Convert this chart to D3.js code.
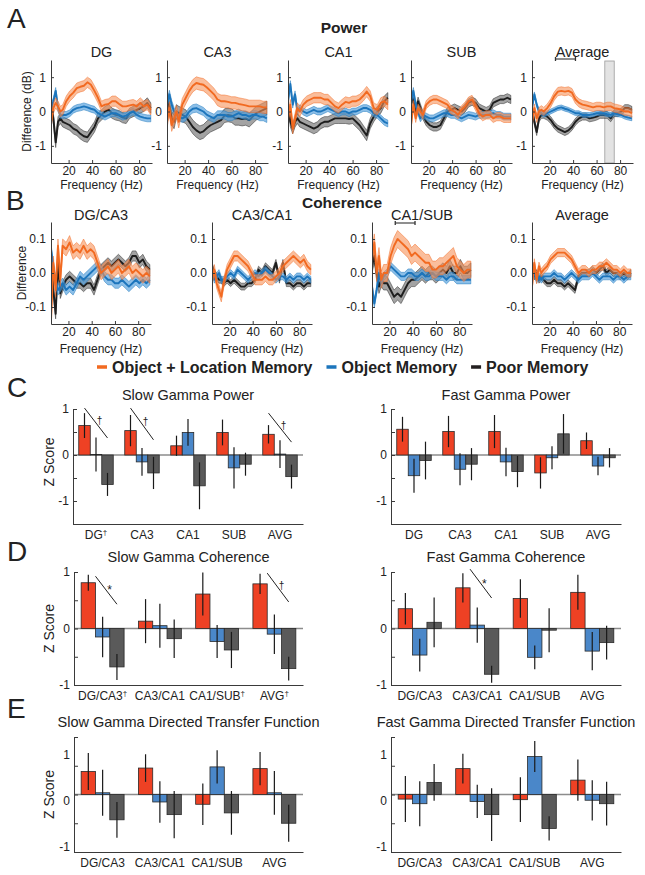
<!DOCTYPE html>
<html><head><meta charset="utf-8">
<script src="https://cdn.jsdelivr.net/npm/d3@7"></script>
<style>
body{margin:0;background:#fff}
svg{display:block}
text{font-family:"Liberation Sans",Arial,Helvetica,sans-serif;fill:#222}
</style>
</head><body>
<svg id="c" width="645" height="875"></svg>
<script>
// ---------------- DATA ----------------
const groups = ["Object + Location Memory", "Object Memory", "Poor Memory"];
const freqs = [5,7,9,11,13,15,18,21,24,27,30,33,36,39,42,45,48,51,54,57,60,63,66,69,72,75,78,81,84,87,90];

// Panel A: power difference (dB)
const powerRegions = ["DG","CA3","CA1","SUB","Average"];
const powDG_OL = [-0.3,0.1,0.25,0.15,0.0,0.05,0.3,0.45,0.55,0.68,0.72,0.75,0.85,0.78,0.6,0.4,0.15,0.2,0.22,0.3,0.3,0.22,0.15,0.15,0.18,0.2,0.15,0.25,0.15,0.2,0.05];
const powDG_OM = [0.1,0.3,0.6,0.1,-0.1,-0.1,-0.1,-0.05,0.05,0.1,0.12,0.15,0.12,0.08,0.05,-0.05,-0.1,-0.15,-0.1,-0.05,-0.05,-0.1,-0.15,-0.12,-0.05,0.0,-0.1,-0.15,-0.18,-0.2,-0.2];
const powDG_PM = [0.3,-0.2,-0.9,-0.3,-0.2,-0.3,-0.35,-0.4,-0.5,-0.55,-0.65,-0.72,-0.75,-0.6,-0.45,-0.2,-0.1,0.0,0.05,-0.05,-0.1,-0.12,-0.18,-0.2,-0.05,0.0,0.05,0.1,0.15,0.25,0.1];
const powCA3_OL = [-0.3,0.1,-0.4,-0.2,0.0,-0.3,0.2,0.4,0.6,0.75,0.83,0.8,0.78,0.7,0.6,0.5,0.35,0.3,0.3,0.28,0.25,0.25,0.22,0.2,0.18,0.15,0.15,0.15,0.15,0.12,0.12];
const powCA3_OM = [0.2,0.5,0.2,0.0,-0.1,-0.15,-0.2,-0.15,0.0,0.08,0.1,0.05,0.0,-0.1,-0.15,-0.2,-0.1,-0.1,-0.1,-0.15,-0.15,-0.1,-0.05,-0.1,-0.1,-0.15,-0.1,-0.1,-0.15,-0.15,-0.2];
const powCA3_PM = [0.4,0.1,-0.2,-0.3,0.0,-0.05,-0.1,-0.15,-0.3,-0.45,-0.55,-0.62,-0.58,-0.48,-0.4,-0.35,-0.3,-0.25,-0.12,-0.1,-0.12,-0.2,-0.2,-0.22,-0.2,-0.25,-0.15,-0.05,0.0,0.05,0.1];
const powCA1_OL = [-0.2,0.2,-0.5,-0.2,0.1,0.0,0.2,0.3,0.35,0.4,0.4,0.4,0.35,0.35,0.25,0.15,0.1,0.2,0.28,0.25,0.3,0.3,0.35,0.45,0.58,0.45,0.1,0.05,0.25,0.3,0.2];
const powCA1_OM = [0.3,0.8,0.2,0.5,0.0,0.1,0.0,-0.05,0.0,0.05,0.0,0.0,0.05,0.1,0.05,0.0,-0.05,0.0,0.0,-0.05,0.0,0.0,0.05,0.1,0.1,0.05,-0.05,-0.1,-0.2,-0.3,-0.35];
const powCA1_PM = [0.2,-0.3,-0.5,-0.3,-0.2,-0.3,-0.35,-0.4,-0.45,-0.5,-0.45,-0.35,-0.3,-0.3,-0.25,-0.2,-0.2,-0.2,-0.2,-0.22,-0.2,-0.3,-0.4,-0.55,-0.7,-0.35,-0.15,0.0,0.1,0.3,0.4];
const powSUB_OL = [-0.4,0.2,-0.2,0.1,0.0,-0.1,0.2,0.3,0.35,0.35,0.3,0.25,0.2,0.05,0.0,-0.1,0.05,0.15,0.3,0.35,0.15,-0.05,-0.15,-0.1,-0.1,-0.2,-0.15,-0.15,-0.2,-0.2,-0.2];
const powSUB_OM = [0.3,0.6,0.2,0.0,-0.2,-0.1,-0.15,-0.2,-0.2,-0.15,-0.1,-0.05,-0.05,-0.1,-0.1,-0.15,-0.2,-0.15,-0.1,-0.12,-0.15,-0.1,-0.1,-0.1,-0.08,-0.05,-0.1,-0.1,-0.15,-0.15,-0.15];
const powSUB_PM = [0.5,0.3,0.0,0.3,0.1,-0.1,-0.3,-0.4,-0.45,-0.45,-0.4,-0.2,0.0,0.05,0.1,0.05,0.0,0.1,0.25,0.3,0.25,0.1,0.05,0.0,0.05,0.25,0.3,0.35,0.35,0.4,0.35];
const powAVG_OL = [-0.3,0.1,-0.2,0.0,0.05,0.0,0.1,0.25,0.45,0.58,0.6,0.58,0.6,0.55,0.35,0.25,0.2,0.18,0.15,0.12,0.15,0.15,0.12,0.15,0.15,0.1,0.08,0.05,0.0,0.0,-0.05];
const powAVG_OM = [0.1,0.5,0.2,0.0,-0.05,-0.1,-0.05,0.0,0.05,0.1,0.12,0.08,0.05,0.0,-0.05,-0.05,-0.1,-0.1,-0.1,-0.08,-0.05,-0.05,-0.05,-0.08,-0.1,-0.05,-0.08,-0.1,-0.15,-0.18,-0.2];
const powAVG_PM = [0.1,-0.3,-0.6,-0.2,-0.1,-0.1,-0.15,-0.25,-0.4,-0.5,-0.55,-0.6,-0.55,-0.45,-0.3,-0.2,-0.15,-0.15,-0.2,-0.18,-0.15,-0.1,-0.1,-0.1,-0.2,-0.05,-0.05,0.0,0.1,0.1,0.05];
// shaded band half-widths [O+L, Object, Poor]
const powSem = [[0.15,0.1,0.15],[0.18,0.12,0.2],[0.15,0.1,0.15],[0.12,0.1,0.12],[0.12,0.07,0.1]];
const slowGammaHz = [25, 42];
const fastGammaHz = [67, 75];

// Panel B: coherence difference
const cohPairs = ["DG/CA3","CA3/CA1","CA1/SUB","Average"];
const cohDGCA3_OL = [-0.14,0.03,-0.05,0.08,-0.02,0.08,0.07,0.09,0.06,0.07,0.06,0.08,0.06,0.07,0.06,0.03,0.0,0.01,0.02,0.0,0.01,0.02,0.0,0.01,0.02,0.0,0.01,0.0,-0.01,0.0,-0.01];
const cohDGCA3_OM = [0.07,0.02,-0.03,-0.05,-0.04,-0.03,-0.05,-0.04,-0.05,-0.03,-0.01,-0.02,-0.01,0.0,0.01,0.02,0.01,-0.01,-0.02,-0.02,-0.03,-0.03,-0.02,-0.03,-0.04,-0.03,-0.02,-0.03,-0.02,-0.03,-0.02];
const cohDGCA3_PM = [0.05,-0.05,-0.12,0.03,-0.06,-0.04,-0.02,-0.01,-0.02,-0.03,-0.03,-0.04,-0.03,-0.03,-0.05,-0.02,0.01,0.02,0.03,0.02,0.03,0.04,0.03,0.02,0.03,0.05,0.05,0.03,0.04,0.02,0.01];
const cohCA3CA1_OL = [-0.02,0.01,-0.03,-0.05,-0.07,-0.03,0.01,0.03,0.05,0.05,0.04,0.03,0.02,0.0,-0.02,-0.02,-0.02,-0.01,-0.02,-0.02,-0.01,0.0,0.02,0.03,0.04,0.05,0.04,0.03,0.04,0.02,0.01];
const cohCA3CA1_OM = [0.01,-0.02,-0.01,0.0,-0.02,-0.02,-0.01,0.0,-0.01,0.01,0.0,-0.01,-0.02,-0.01,0.0,-0.01,0.0,0.01,0.0,-0.01,-0.02,-0.01,-0.01,-0.02,-0.01,-0.02,-0.01,-0.01,-0.02,-0.01,-0.02];
const cohCA3CA1_PM = [0.02,0.0,-0.01,-0.02,-0.02,-0.03,-0.02,-0.03,-0.02,-0.03,-0.04,-0.04,-0.03,-0.03,-0.02,0.01,0.0,0.02,0.01,0.0,0.03,-0.02,0.03,-0.03,-0.03,-0.04,-0.03,-0.03,-0.04,-0.03,-0.03];
const cohCA1SUB_OL = [0.05,0.09,0.0,0.05,-0.02,0.0,0.0,0.05,0.08,0.1,0.09,0.08,0.07,0.05,0.06,0.05,0.04,0.03,0.03,0.01,0.01,0.02,0.02,0.03,0.04,0.05,0.02,0.01,0.0,0.01,0.01];
const cohCA1SUB_OM = [-0.04,-0.09,-0.05,0.0,-0.03,-0.01,0.0,0.02,0.01,0.0,-0.01,-0.01,0.0,0.0,-0.01,-0.01,0.0,-0.01,-0.01,0.0,-0.01,-0.01,-0.01,-0.02,-0.01,-0.01,-0.02,-0.02,-0.02,-0.02,-0.02];
const cohCA1SUB_PM = [0.02,0.05,0.0,-0.04,-0.02,-0.03,-0.03,-0.05,-0.07,-0.06,-0.07,-0.05,-0.03,-0.02,-0.02,-0.01,0.0,-0.01,0.0,0.0,-0.01,0.0,0.01,0.0,0.02,0.0,0.0,0.02,0.0,0.0,0.01];
const cohAVG_OL = [-0.04,0.03,-0.02,0.02,0.0,0.01,0.02,0.04,0.05,0.06,0.06,0.06,0.05,0.04,0.02,0.0,0.01,0.01,0.0,0.01,0.01,0.02,0.02,0.03,0.02,0.01,0.01,0.0,0.01,0.0,0.0];
const cohAVG_OM = [0.03,0.0,-0.02,-0.01,-0.02,-0.01,-0.01,-0.01,0.0,-0.01,-0.01,-0.02,-0.01,0.0,-0.01,-0.02,-0.01,-0.01,-0.01,0.0,-0.01,-0.02,-0.01,-0.01,-0.01,-0.02,-0.01,-0.01,-0.02,-0.01,-0.01];
const cohAVG_PM = [0.03,-0.01,0.0,-0.02,-0.01,-0.02,-0.03,-0.03,-0.02,-0.03,-0.03,-0.04,-0.03,-0.04,-0.05,-0.01,0.0,0.0,0.0,0.01,0.0,0.01,0.02,0.0,0.01,0.0,0.0,-0.01,0.0,-0.01,0.0];
const cohSem = [[0.02,0.015,0.015],[0.015,0.01,0.01],[0.025,0.012,0.02],[0.012,0.01,0.01]];

// Panel C: power z-scores
const powCats = ["DG","CA3","CA1","SUB","AVG"];
const slowPowDagger = ["DG"];
const slowPowOL = [0.64,0.53,0.2,0.49,0.45],   slowPowOLErr = [0.27,0.34,0.22,0.28,0.2];
const slowPowOM = [0.01,-0.15,0.49,-0.28,0.02], slowPowOMErr = [0.37,0.3,0.29,0.45,0.3];
const slowPowPM = [-0.64,-0.39,-0.67,-0.2,-0.47], slowPowPMErr = [0.25,0.35,0.51,0.25,0.26];
const slowPowSig = [{cat:"DG",sym:"†",from:1.02,to:0.37},{cat:"CA3",sym:"†",from:1.02,to:0.33},{cat:"AVG",sym:"†",from:0.91,to:0.28}];
const fastPowOL = [0.56,0.51,0.51,-0.39,0.31],  fastPowOLErr = [0.27,0.34,0.36,0.34,0.18];
const fastPowOM = [-0.45,-0.31,-0.15,-0.06,-0.24], fastPowOMErr = [0.37,0.35,0.31,0.25,0.2];
const fastPowPM = [-0.12,-0.2,-0.36,0.46,-0.06], fastPowPMErr = [0.41,0.35,0.34,0.43,0.21];

// Panel D: coherence z-scores
const pairCats = ["DG/CA3","CA3/CA1","CA1/SUB","AVG"];
const slowCohDagger = ["DG/CA3","CA1/SUB","AVG"];
const slowCohOL = [0.81,0.13,0.61,0.79],  slowCohOLErr = [0.14,0.39,0.38,0.18];
const slowCohOM = [-0.15,0.05,-0.23,-0.1], slowCohOMErr = [0.36,0.39,0.29,0.35];
const slowCohPM = [-0.68,-0.18,-0.38,-0.71], slowCohPMErr = [0.23,0.34,0.32,0.21];
const slowCohSig = [{cat:"DG/CA3",sym:"*",from:0.925,to:0.43},{cat:"AVG",sym:"†",from:0.98,to:0.47}];
const fastCohOL = [0.35,0.72,0.53,0.64],  fastCohOLErr = [0.28,0.26,0.34,0.31];
const fastCohOM = [-0.47,0.06,-0.51,-0.4], fastCohOMErr = [0.29,0.31,0.21,0.34];
const fastCohPM = [0.11,-0.81,-0.03,-0.25], fastCohPMErr = [0.44,0.15,0.39,0.3];
const fastCohSig = [{cat:"CA3/CA1",sym:"*",from:1.05,to:0.54}];

// Panel E: directed transfer function z-scores
const slowDtfOL = [0.4,0.46,-0.17,0.45],  slowDtfOLErr = [0.32,0.24,0.36,0.29];
const slowDtfOM = [0.03,-0.13,0.48,0.03], slowDtfOMErr = [0.4,0.36,0.29,0.38];
const slowDtfPM = [-0.44,-0.35,-0.32,-0.5], slowDtfPMErr = [0.31,0.41,0.38,0.32];
const fastDtfOL = [-0.08,0.45,-0.09,0.25], fastDtfOLErr = [0.4,0.26,0.39,0.36];
const fastDtfOM = [-0.16,-0.12,0.66,-0.1], fastDtfOMErr = [0.39,0.29,0.27,0.35];
const fastDtfPM = [0.21,-0.35,-0.59,-0.16], fastDtfPMErr = [0.32,0.46,0.21,0.38];

// ---------------- STYLE ----------------
const colLine = ["#F26A21","#1C75BC","#1E1E1E"];
const colBand = ["#F7925A","#4E9DDC","#8C8C8C"];
const bandOp = [0.6,0.65,0.8];
const colBar = ["#EE4124","#4A87C9","#5A5A5A"];
const colLegend = ["#F26A21","#1C75BC","#231F20"];
const AX = "#3a3a3a";
// label nudges of the DTF panels' y tick labels, as printed in the figure
const dtfLabelNudge = {"1":18, "0":6, "-1":-5};

const svg = d3.select("#c");
let clipN = 0;

function styleAxis(g){
  g.selectAll(".domain").attr("stroke",AX).attr("stroke-width",1);
  g.selectAll(".tick line").attr("stroke",AX).attr("stroke-width",1);
  g.selectAll(".tick text").attr("fill","#222").style("font-size","12px")
    .style("font-family",'"Liberation Sans",Arial,sans-serif');
}

function addText(x,y,str,size,opts={}){
  const t = svg.append("text").attr("x",x).attr("y",y).text(str)
    .style("font-size",size+"px")
    .attr("text-anchor",opts.anchor||"middle");
  if(opts.bold) t.style("font-weight","bold");
  if(opts.fill) t.attr("fill",opts.fill);
  if(opts.rotate) t.attr("transform",`rotate(-90,${x},${y})`);
  return t;
}

function linePanel(cfg){
  const x = d3.scaleLinear().domain([5,91]).range([cfg.left,cfg.left+cfg.width]);
  const y = d3.scaleLinear().domain(cfg.yDomain).range([cfg.bottom,cfg.top]);
  const g = svg.append("g");
  const id = "clip"+(clipN++);
  svg.append("clipPath").attr("id",id).append("rect")
    .attr("x",cfg.left).attr("y",cfg.top).attr("width",cfg.width).attr("height",cfg.bottom-cfg.top);
  if(cfg.shade){
    g.append("rect").attr("x",x(cfg.shade[0])).attr("width",x(cfg.shade[1])-x(cfg.shade[0]))
      .attr("y",cfg.top+1).attr("height",cfg.bottom-cfg.top-1)
      .attr("fill","#e3e3e3").attr("stroke","#9a9a9a").attr("stroke-width",0.8);
  }
  const pg = g.append("g").attr("clip-path",`url(#${id})`);
  [2,1,0].forEach(i=>{
    const s = cfg.sems[i];
    const pts = freqs.map((f,k)=>({f, v:cfg.series[i][k]}));
    pg.append("path").datum(pts)
      .attr("d", d3.area().x(d=>x(d.f)).y0(d=>y(d.v-s)).y1(d=>y(d.v+s)))
      .attr("fill",colBand[i]).attr("fill-opacity",bandOp[i])
      .attr("stroke",colLine[i]).attr("stroke-width",0.6).attr("stroke-opacity",0.8);
    pg.append("path").datum(pts)
      .attr("d", d3.line().x(d=>x(d.f)).y(d=>y(d.v)))
      .attr("fill","none").attr("stroke",colLine[i]).attr("stroke-width",1.9)
      .attr("stroke-linejoin","round");
  });
  const ax = g.append("g").attr("transform",`translate(0,${cfg.bottom})`)
    .call(d3.axisBottom(x).tickValues([20,40,60,80]).tickSizeInner(-3).tickSizeOuter(0).tickPadding(3));
  const ay = g.append("g").attr("transform",`translate(${cfg.left},0)`)
    .call(d3.axisLeft(y).tickValues(cfg.yTicks).tickFormat(cfg.yFmt).tickSizeInner(-3).tickSizeOuter(0).tickPadding(5));
  styleAxis(ax); styleAxis(ay);
  addText(cfg.left+cfg.width/2, cfg.titleY, cfg.title, 14.5);
  addText(cfg.left+cfg.width/2, cfg.xlabelY, "Frequency (Hz)", 12);
  if(cfg.ylabel) addText(cfg.ylabelX, (cfg.top+cfg.bottom)/2, cfg.ylabel, 12, {rotate:true});
  if(cfg.bracket){
    const by = cfg.bracketY, x1 = x(cfg.bracket[0]), x2 = x(cfg.bracket[1]);
    svg.append("line").attr("x1",x1).attr("x2",x2).attr("y1",by).attr("y2",by).attr("stroke","#333").attr("stroke-width",1.1);
    [x1,x2].forEach(xx=>svg.append("line").attr("x1",xx).attr("x2",xx).attr("y1",by-2).attr("y2",by+2).attr("stroke","#333").attr("stroke-width",1.3));
  }
}

function barPanel(cfg){
  const x0 = d3.scaleBand().domain(cfg.cats).range([cfg.left,cfg.right]).padding(0);
  const x1 = d3.scaleBand().domain([0,1,2]).range([0,x0.bandwidth()]).paddingInner(0).paddingOuter(0.5);
  const y = d3.scaleLinear().domain(cfg.domain).range([cfg.bottom,cfg.top]);
  const g = svg.append("g");
  g.append("line").attr("x1",cfg.left).attr("x2",cfg.right).attr("y1",y(0)).attr("y2",y(0))
    .attr("stroke","#8c8c8c").attr("stroke-width",1.3);
  const rows = [];
  cfg.vals.forEach((arr,i)=>arr.forEach((v,k)=>rows.push({i, cat:cfg.cats[k], v, e:cfg.errs[i][k]})));
  g.selectAll("rect.bar").data(rows).join("rect").attr("class","bar")
    .attr("x",d=>x0(d.cat)+x1(d.i)).attr("width",x1.bandwidth())
    .attr("y",d=>y(Math.max(0,d.v))).attr("height",d=>Math.abs(y(d.v)-y(0)))
    .attr("fill",d=>colBar[d.i]).attr("stroke","#2a2a2a").attr("stroke-width",0.8);
  g.selectAll("line.err").data(rows).join("line").attr("class","err")
    .attr("x1",d=>x0(d.cat)+x1(d.i)+x1.bandwidth()/2).attr("x2",d=>x0(d.cat)+x1(d.i)+x1.bandwidth()/2)
    .attr("y1",d=>y(d.v-d.e)).attr("y2",d=>y(d.v+d.e))
    .attr("stroke","#1a1a1a").attr("stroke-width",1.2);
  const ax = g.append("g").attr("transform",`translate(0,${cfg.bottom})`)
    .call(d3.axisBottom(x0).tickSizeInner(0).tickSizeOuter(0).tickPadding(6.5));
  const ay = g.append("g").attr("transform",`translate(${cfg.left},0)`)
    .call(d3.axisLeft(y).tickValues(cfg.ticks).tickFormat(d=>Number.isInteger(d)?String(d):"")
      .tickSizeInner(-4).tickSizeOuter(0).tickPadding(4));
  styleAxis(ax); styleAxis(ay);
  if(cfg.labelNudge){
    ay.selectAll(".tick text").attr("transform", d => `translate(0,${cfg.labelNudge[String(d)]||0})`);
  }
  ax.selectAll(".tick text").each(function(d){
    if((cfg.daggers||[]).includes(d)){
      d3.select(this).append("tspan").text("†").attr("dy","-0.45em").style("font-size","8px");
    }
  });
  addText((cfg.left+cfg.right)/2, cfg.titleY, cfg.title, 14.5);
  if(cfg.ylabel) addText(54, y(cfg.ylabelAt), cfg.ylabel, 14, {rotate:true});
  (cfg.sig||[]).forEach(s=>{
    const xs = x0(s.cat)+x1(0)+x1.bandwidth()*(0.5+cfg.sigDx);
    const xe = x0(s.cat)+x1(2)+x1.bandwidth()/2;
    const ys = y(s.from), ye = y(s.to);
    g.append("line").attr("x1",xs).attr("x2",xe).attr("y1",ys).attr("y2",ye).attr("stroke","#222").attr("stroke-width",1);
    addText((xs+xe)/2+3.5, (ys+ye)/2+(s.sym==="*"?4:1), s.sym, s.sym==="*"?12:10);
  });
}

// ---------------- PANEL A ----------------
addText(7,28,"A",28,{anchor:"start"});
addText(344,33,"Power",15.5,{bold:true});
const powSeries = [[powDG_OL,powDG_OM,powDG_PM],[powCA3_OL,powCA3_OM,powCA3_PM],[powCA1_OL,powCA1_OM,powCA1_PM],[powSUB_OL,powSUB_OM,powSUB_PM],[powAVG_OL,powAVG_OM,powAVG_PM]];
const aLefts = [51,167,288,411,532];
powerRegions.forEach((r,i)=>{
  linePanel({left:aLefts[i], width:101, top:60, bottom:163, yDomain:[-1.5,1.5], yTicks:[-1,0,1], yFmt:d=>String(d),
    title:r, titleY:57, xlabelY:189, series:powSeries[i], sems:powSem[i],
    ylabel: i===0 ? "Difference (dB)" : null, ylabelX:31,
    shade: i===4 ? fastGammaHz : null, bracket: i===4 ? slowGammaHz : null, bracketY:59});
});

// ---------------- PANEL B ----------------
addText(6,210,"B",28,{anchor:"start"});
addText(342,208,"Coherence",15.5,{bold:true});
const cohSeries = [[cohDGCA3_OL,cohDGCA3_OM,cohDGCA3_PM],[cohCA3CA1_OL,cohCA3CA1_OM,cohCA3CA1_PM],[cohCA1SUB_OL,cohCA1SUB_OM,cohCA1SUB_PM],[cohAVG_OL,cohAVG_OM,cohAVG_PM]];
const bLefts = [51,212,372,532];
cohPairs.forEach((p,i)=>{
  linePanel({left:bLefts[i], width:100, top:222, bottom:324, yDomain:[-0.15,0.15], yTicks:[-0.1,0,0.1], yFmt:d=>d.toFixed(1),
    title:p, titleY:220, xlabelY:352.5, series:cohSeries[i], sems:cohSem[i],
    ylabel: i===0 ? "Difference" : null, ylabelX:26,
    bracket: i===2 ? slowGammaHz : null, bracketY:223});
});

// ---------------- LEGEND ----------------
(function(){
  let x = 97; const yc = 367;
  groups.forEach((gname,i)=>{
    svg.append("rect").attr("x",x).attr("y",yc-1.75).attr("width",10).attr("height",3.5).attr("fill",colLegend[i]);
    const t = addText(x+15, yc+5.7, gname, 16, {anchor:"start", bold:true, fill:colLegend[i]});
    x = x + 15 + t.node().getComputedTextLength() + 14;
  });
})();

// ---------------- PANEL C ----------------
addText(7,397,"C",28,{anchor:"start"});
barPanel({left:73, right:303, top:409, bottom:524, domain:[-1.5,1], ticks:[-1.5,-1,-0.5,0,0.5,1],
  cats:powCats, daggers:slowPowDagger, vals:[slowPowOL,slowPowOM,slowPowPM], errs:[slowPowOLErr,slowPowOMErr,slowPowPMErr],
  title:"Slow Gamma Power", titleY:400, ylabel:"Z Score", ylabelAt:-0.15, sig:slowPowSig, sigDx:0});
barPanel({left:391, right:621, top:409, bottom:524, domain:[-1.5,1], ticks:[-1.5,-1,-0.5,0,0.5,1],
  cats:powCats, vals:[fastPowOL,fastPowOM,fastPowPM], errs:[fastPowOLErr,fastPowOMErr,fastPowPMErr],
  title:"Fast Gamma Power", titleY:400});

// ---------------- PANEL D ----------------
addText(7,561,"D",28,{anchor:"start"});
barPanel({left:74, right:303, top:572, bottom:685, domain:[-1,1], ticks:[-1,-0.5,0,0.5,1],
  cats:pairCats, daggers:slowCohDagger, vals:[slowCohOL,slowCohOM,slowCohPM], errs:[slowCohOLErr,slowCohOMErr,slowCohPMErr],
  title:"Slow Gamma Coherence", titleY:562, ylabel:"Z Score", ylabelAt:0, sig:slowCohSig, sigDx:0.5});
barPanel({left:391, right:621, top:572, bottom:685, domain:[-1,1], ticks:[-1,-0.5,0,0.5,1],
  cats:pairCats, vals:[fastCohOL,fastCohOM,fastCohPM], errs:[fastCohOLErr,fastCohOMErr,fastCohPMErr],
  title:"Fast Gamma Coherence", titleY:562, sig:fastCohSig, sigDx:0.5});

// ---------------- PANEL E ----------------
addText(7,718,"E",28,{anchor:"start"});
barPanel({left:74, right:303, top:737, bottom:852, domain:[-1,1], ticks:[-1,-0.5,0,0.5,1],
  cats:pairCats, vals:[slowDtfOL,slowDtfOM,slowDtfPM], errs:[slowDtfOLErr,slowDtfOMErr,slowDtfPMErr],
  title:"Slow Gamma Directed Transfer Function", titleY:727, ylabel:"Z Score", ylabelAt:0, labelNudge:dtfLabelNudge});
barPanel({left:391, right:621, top:737, bottom:852, domain:[-1,1], ticks:[-1,-0.5,0,0.5,1],
  cats:pairCats, vals:[fastDtfOL,fastDtfOM,fastDtfPM], errs:[fastDtfOLErr,fastDtfOMErr,fastDtfPMErr],
  title:"Fast Gamma Directed Transfer Function", titleY:727, labelNudge:dtfLabelNudge});
</script>
</body></html>
